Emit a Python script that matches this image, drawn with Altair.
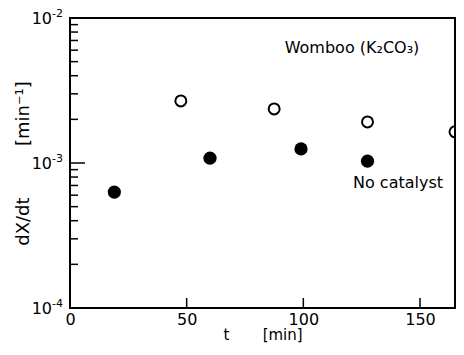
import altair as alt
import pandas as pd

# Womboo (K2CO3) catalyst - open circles
t_open = [47.5, 87.5, 127.5, 165.0]
rate_open = [2.68e-3, 2.36e-3, 1.92e-3, 1.64e-3]

# No catalyst - filled circles
t_filled = [19.0, 60.0, 99.0, 127.5]
rate_filled = [6.3e-4, 1.08e-3, 1.25e-3, 1.03e-3]

x_label_values = [0, 50, 100, 150]
x_tick_values = [50, 100, 150]
y_label_values = [1e-4, 1e-3, 1e-2]
y_label_base = ["10", "10", "10"]
y_label_exp = ["-4", "-3", "-2"]
y_major_tick_values = [1e-3]
y_minor_tick_values = [2e-4, 3e-4, 4e-4, 5e-4, 6e-4, 7e-4, 8e-4, 9e-4,
                       2e-3, 3e-3, 4e-3, 5e-3, 6e-3, 7e-3, 8e-3, 9e-3]
annotations = ["Womboo (K₂CO₃)", "No catalyst"]

df_open = pd.DataFrame({"t": t_open, "rate": rate_open})
df_filled = pd.DataFrame({"t": t_filled, "rate": rate_filled})
df_xt = pd.DataFrame({"v": x_tick_values})
df_ymin = pd.DataFrame({"v": y_minor_tick_values})
df_ymaj = pd.DataFrame({"v": y_major_tick_values})
df_ylab = pd.DataFrame({"v": y_label_values, "base": y_label_base, "exp": y_label_exp})
one = pd.DataFrame({"k": [0]})

W, H = 385, 290
FONT = "DejaVu Sans"
NB = "\u00a0"
xs = alt.Scale(domain=[0, 165.0], nice=False, zero=False)
ys = alt.Scale(type="log", domain=[1e-4, 1e-2], nice=False)

x_main_axis = alt.Axis(values=x_label_values, ticks=False, domain=False, grid=False,
                       labelPadding=3, labelFontSize=16, labelFont=FONT, labelColor="black",
                       title="t" + NB * 7 + "[min]" + NB * 2, titleFontSize=15, titleFont=FONT,
                       titleFontWeight="normal", titleColor="black", titlePadding=0,
                       orient="bottom", labelFlush=False)
y_main_axis = alt.Axis(values=y_label_values, ticks=False, domain=False, grid=False,
                       labels=False,
                       title="dX/dt" + NB * 9 + "[min⁻¹]" + NB * 2, titleFontSize=18, titleFont=FONT,
                       titleFontWeight="normal", titleColor="black", titlePadding=38,
                       orient="left")

open_layer = alt.Chart(df_open).mark_point(
    shape="circle", filled=False, size=120, strokeWidth=2, color="black", opacity=1
).encode(
    x=alt.X("t:Q", scale=xs, axis=x_main_axis),
    y=alt.Y("rate:Q", scale=ys, axis=y_main_axis),
)

filled_layer = alt.Chart(df_filled).mark_circle(
    size=175, color="black", opacity=1
).encode(
    x=alt.X("t:Q", scale=xs, axis=None),
    y=alt.Y("rate:Q", scale=ys, axis=None),
)

frame_style = dict(color="black", strokeWidth=2, strokeCap="square")
frame_top = alt.Chart(one).mark_rule(**frame_style).encode(
    x=alt.value(0), x2=alt.value(W), y=alt.value(0))
frame_bottom = alt.Chart(one).mark_rule(**frame_style).encode(
    x=alt.value(0), x2=alt.value(W), y=alt.value(H))
frame_left = alt.Chart(one).mark_rule(**frame_style).encode(
    x=alt.value(0), y=alt.value(0), y2=alt.value(H))
frame_right = alt.Chart(one).mark_rule(**frame_style).encode(
    x=alt.value(W), y=alt.value(0), y2=alt.value(H))

x_ticks_layer = alt.Chart(df_xt).mark_rule(color="black", strokeWidth=1.5).encode(
    x=alt.X("v:Q", scale=xs, axis=None), y=alt.value(H - 10), y2=alt.value(H)
)
y_minor_layer = alt.Chart(df_ymin).mark_rule(color="black", strokeWidth=1.5).encode(
    y=alt.Y("v:Q", scale=ys, axis=None), x=alt.value(0), x2=alt.value(8)
)
y_major_layer = alt.Chart(df_ymaj).mark_rule(color="black", strokeWidth=1.5).encode(
    y=alt.Y("v:Q", scale=ys, axis=None), x=alt.value(0), x2=alt.value(15)
)

y_base_text = alt.Chart(df_ylab).mark_text(
    font=FONT, fontSize=16, color="black", align="right", baseline="middle", dy=1
).encode(y=alt.Y("v:Q", scale=ys, axis=None), x=alt.value(-18), text="base:N")
y_exp_text = alt.Chart(df_ylab).mark_text(
    font=FONT, fontSize=11, color="black", align="left", baseline="middle", dy=-4
).encode(y=alt.Y("v:Q", scale=ys, axis=None), x=alt.value(-18), text="exp:N")

womboo_text = alt.Chart(one).mark_text(
    text=annotations[0], font=FONT, fontSize=16, color="black", align="center", baseline="middle"
).encode(x=alt.value(282), y=alt.value(30))

nocat_text = alt.Chart(one).mark_text(
    text=annotations[1], font=FONT, fontSize=16, color="black", align="center", baseline="middle"
).encode(x=alt.value(328), y=alt.value(165))

chart = alt.layer(
    open_layer, filled_layer, frame_top, frame_bottom, frame_left, frame_right,
    x_ticks_layer, y_minor_layer, y_major_layer, y_base_text, y_exp_text,
    womboo_text, nocat_text
).resolve_axis(
    x="independent", y="independent"
).properties(
    width=W, height=H,
    background="white",
    autosize=alt.AutoSizeParams(type="none"),
    padding={"left": 62, "top": 10, "right": 1, "bottom": 39},
).configure_view(
    stroke=None
)

chart.save("out.html", embed_options={"renderer": "svg", "actions": False})
